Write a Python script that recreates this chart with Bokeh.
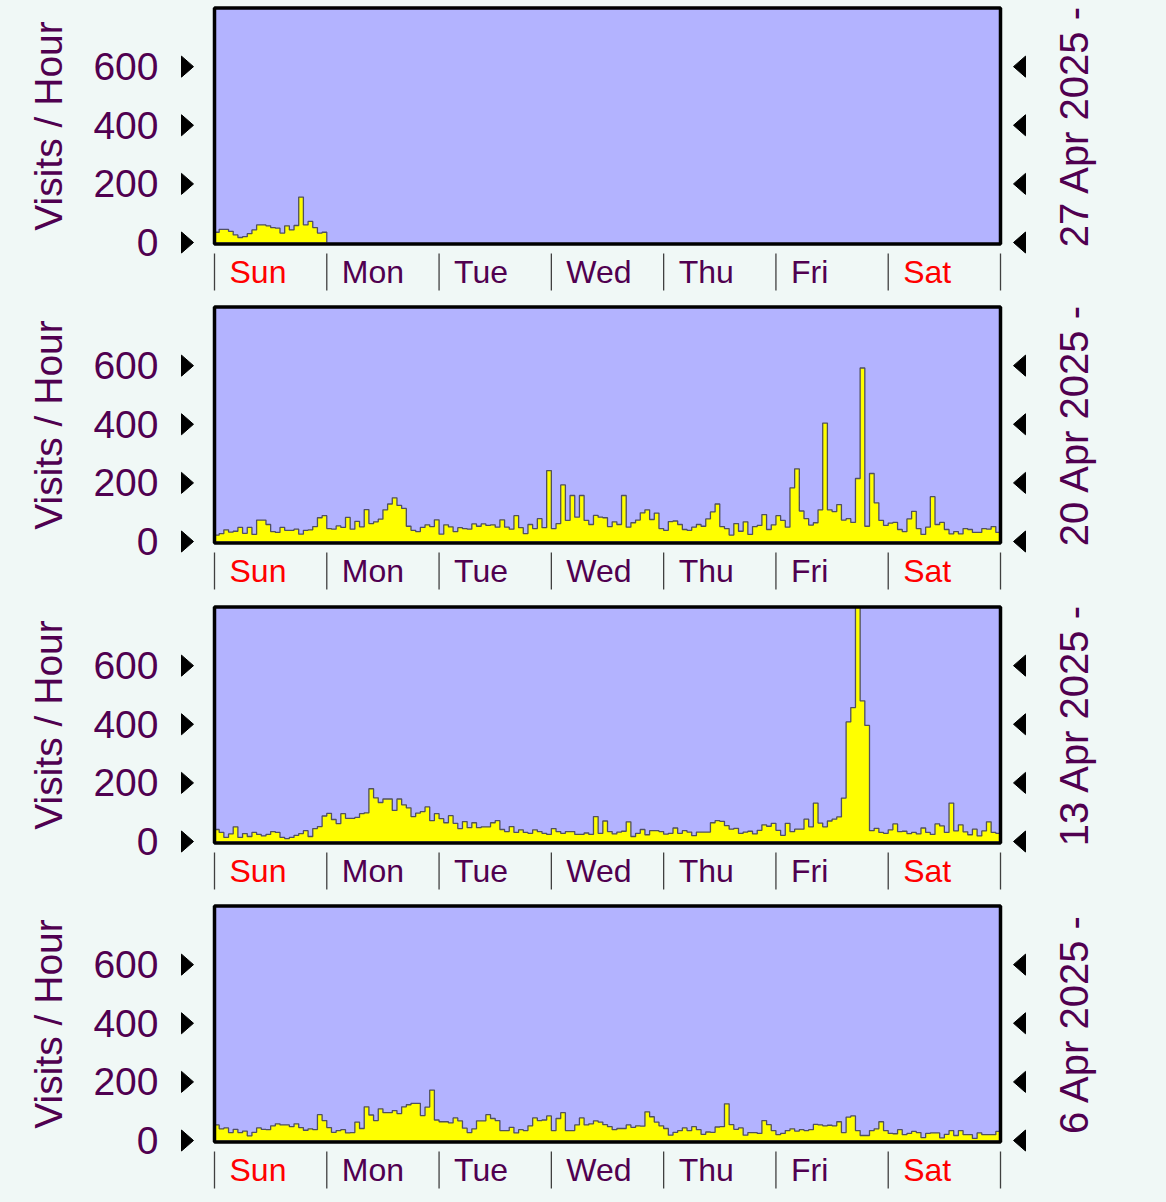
import math
from bokeh.plotting import figure
from bokeh.models import Range1d, FixedTicker
from bokeh.layouts import column, row
from bokeh.core.properties import value
from bokeh.embed import file_html
from bokeh.resources import INLINE

# ---------------- data ----------------
days = ["Sun", "Mon", "Tue", "Wed", "Thu", "Fri", "Sat"]
week_labels = ["27 Apr 2025 -", "20 Apr 2025 -", "13 Apr 2025 -", "6 Apr 2025 -"]
y_ticks = [0, 200, 400, 600]
y_max = 800
y_title = "Visits / Hour"

week_27apr = [35, 45, 45, 38, 26, 17, 20, 30, 43, 60, 60, 57, 51, 49, 32, 57, 43, 58, 155, 60, 72, 51, 32, 35]

week_20apr = [22, 27, 40, 32, 35, 48, 28, 48, 24, 73, 73, 58, 34, 31, 48, 38, 38, 42, 25, 38,
              40, 51, 81, 88, 44, 42, 53, 48, 82, 42, 69, 50, 109, 61, 67, 76, 108, 128, 149, 123,
              113, 52, 38, 34, 48, 57, 51, 74, 25, 57, 50, 34, 47, 44, 42, 60, 52,
              60, 55, 57, 49, 74, 49, 42, 88, 47, 27, 58, 44, 78, 47, 242, 44, 61, 193, 72, 157,
              83, 157, 72, 58, 89, 83, 81, 51, 67, 58, 157, 49, 64, 73, 98, 108, 75, 97, 44, 38,
              68, 70, 58, 41, 38, 49, 58, 52, 77, 101, 128, 51, 44, 22, 61, 35, 67,
              24, 51, 55, 92, 41, 57, 88, 72, 49, 183, 248, 104, 78, 56, 64, 108, 404, 108, 102, 126,
              73, 78, 65, 215, 592, 52, 232, 132, 72, 55, 63, 65, 41, 34, 77, 103, 44, 24, 49, 153,
              58, 65, 41, 26, 34, 26, 44, 41, 31, 31, 44, 42, 51, 31]

week_13apr = [41, 31, 14, 26, 50, 14, 27, 17, 31, 24, 19, 24, 34, 31, 14, 10, 14, 21, 27, 37,
              17, 44, 51, 87, 96, 75, 61, 95, 79, 79, 82, 95, 98, 180, 149, 133, 145, 145, 106, 145,
              125, 115, 85, 97, 102, 118, 71, 95, 78, 64, 88, 62, 44, 68, 47, 64, 47,
              50, 50, 64, 71, 41, 34, 51, 31, 40, 31, 28, 40, 34, 28, 24, 44, 34, 28, 34, 34,
              24, 24, 29, 24, 85, 28, 70, 34, 26, 32, 35, 67, 17, 28, 41, 23, 37, 37, 34, 25,
              28, 46, 28, 37, 32, 20, 32, 32, 32, 64, 71, 69, 54, 42, 45, 28, 32,
              35, 26, 38, 57, 52, 62, 38, 21, 62, 34, 42, 42, 76, 50, 131, 63, 50, 70, 76, 84,
              148, 408, 457, 820, 480, 396, 37, 45, 31, 28, 40, 60, 34, 35, 27, 31, 26, 46, 31, 24,
              60, 53, 31, 131, 36, 57, 33, 23, 42, 19, 36, 67, 31, 28]

week_6apr = [53, 40, 43, 27, 38, 27, 32, 16, 28, 43, 38, 37, 50, 57, 53, 53, 47, 57, 44, 35,
             40, 37, 88, 68, 44, 28, 34, 37, 26, 27, 63, 41, 115, 87, 68, 108, 95, 95, 102, 92,
             115, 122, 127, 127, 85, 114, 172, 70, 64, 64, 60, 77, 67, 42, 27, 40, 67,
             67, 88, 75, 68, 34, 34, 45, 26, 37, 34, 50, 77, 68, 70, 84, 34, 75, 95, 34, 34,
             53, 77, 53, 57, 67, 63, 54, 47, 37, 41, 41, 53, 45, 50, 49, 98, 81, 63, 50, 41,
             18, 28, 34, 43, 34, 47, 37, 21, 29, 28, 46, 47, 125, 54, 38, 43, 18,
             27, 27, 24, 68, 54, 34, 20, 24, 34, 40, 32, 37, 34, 37, 55, 53, 50, 52, 50, 64,
             27, 80, 84, 34, 17, 17, 34, 40, 64, 34, 24, 23, 37, 20, 24, 31, 27, 10, 24, 26,
             26, 9, 21, 34, 17, 34, 20, 20, 7, 26, 20, 20, 20, 31]

weeks = [week_27apr, week_20apr, week_13apr, week_6apr]

# ---------------- style / layout constants ----------------
BG = "#F0F8F6"
LAV = "#B3B3FF"
PURPLE = "#500050"
RED = "#FF0000"
FONT = "Liberation Sans"
HOURS = 168
BOX_X = 214                 # page x of box left edge
BOX_W = 786                 # px, width of lavender box
PX_H = BOX_W / HOURS        # px per hour
PX_V = 0.2931               # px per visit
ZERO_Y = 242                # px from figure top to value 0
FRAME_L = 38                # px of frame left of the box
FRAME_R = 30                # px of frame right of the box
LEFT_W = 90                 # width of the left title strip
FIG_W = 1164
PANEL_H = [299, 300, 299, 302]

day_colors = [RED if d in ("Sun", "Sat") else PURPLE for d in days]


def px_x(px):
    """page-x pixel -> hour coordinate"""
    return (px - BOX_X) / PX_H


def px_y(py):
    """figure-y pixel -> value coordinate"""
    return (ZERO_Y - py) / PX_V


def side_fig(width, height, y_range):
    f = figure(frame_width=width, frame_height=height,
               x_range=Range1d(0, width), y_range=y_range,
               x_axis_location=None, y_axis_location=None,
               toolbar_location=None, output_backend="svg",
               min_border_left=0, min_border_right=0,
               min_border_top=0, min_border_bottom=0)
    f.background_fill_color = BG
    f.border_fill_color = BG
    f.outline_line_color = None
    f.xgrid.visible = False
    f.ygrid.visible = False
    return f


def make_panel(vals, label, height):
    frame_l = BOX_X - FRAME_L
    frame_w = BOX_W + FRAME_L + FRAME_R
    yr = Range1d(px_y(height), px_y(0))
    p = figure(frame_width=frame_w, frame_height=height,
               x_range=Range1d(px_x(frame_l), px_x(frame_l + frame_w)),
               y_range=yr,
               x_axis_location=None, toolbar_location=None, output_backend="svg",
               min_border_left=frame_l - LEFT_W, min_border_right=0,
               min_border_top=0, min_border_bottom=0)
    p.background_fill_color = BG
    p.border_fill_color = BG
    p.outline_line_color = None
    p.xgrid.visible = False
    p.ygrid.visible = False

    box_bottom = px_y(ZERO_Y + 1.5)
    p.quad(left=0, right=HOURS, bottom=box_bottom, top=y_max,
           fill_color=LAV, line_color=None)

    xs = list(range(len(vals))) + [len(vals)]
    ys = [min(v, y_max) for v in vals] + [0]   # bars are clipped at the box top
    p.varea_step(x=xs, y1=[0] * len(xs), y2=ys, step_mode="after",
                 fill_color="#FFFF00")
    p.step(x=xs, y=ys, mode="after", line_color="#505060", line_width=1.3)

    p.quad(left=0, right=HOURS, bottom=box_bottom, top=y_max,
           fill_color=None, line_color="black", line_width=3.5)

    # triangle tick markers
    half = 10.5 / PX_V
    lt, lb = px_x(BOX_X - 21), px_x(BOX_X - 33)
    rt, rb = px_x(BOX_X + BOX_W + 13), px_x(BOX_X + BOX_W + 25)
    p.patches(xs=[[lb, lb, lt] for t in y_ticks],
              ys=[[t + half, t - half, t] for t in y_ticks],
              fill_color="black", line_color="black")
    p.patches(xs=[[rb, rb, rt] for t in y_ticks],
              ys=[[t + half, t - half, t] for t in y_ticks],
              fill_color="black", line_color="black")

    # day separators and labels
    starts = [24 * i for i in range(len(days) + 1)]
    p.segment(x0=starts, y0=[px_y(ZERO_Y + 11)] * len(starts), x1=starts,
              y1=[px_y(ZERO_Y + 48)] * len(starts), line_color="#404040", line_width=1.3)
    p.text(x=starts[:-1], y=[px_y(ZERO_Y + 29.5)] * len(days), text=days,
           text_color=day_colors, text_font=value(FONT), text_font_size="32px",
           text_baseline="middle", text_align="left", x_offset=15)

    ya = p.yaxis[0]
    ya.ticker = FixedTicker(ticks=y_ticks)
    ya.axis_line_color = None
    ya.major_tick_line_color = None
    ya.minor_tick_line_color = None
    ya.major_label_standoff = 12
    ya.major_label_text_font = FONT
    ya.major_label_text_font_size = "39px"
    ya.major_label_text_color = PURPLE

    y_mid = (box_bottom + y_max) / 2

    left = side_fig(LEFT_W, height, yr)
    left.text(x=[47.5], y=[y_mid], text=[y_title], angle=math.pi / 2,
              text_align="center", text_baseline="middle",
              text_font=value(FONT), text_font_size="39px", text_color=PURPLE)

    right_w = FIG_W - frame_l - frame_w
    right = side_fig(right_w, height, yr)
    right.text(x=[1073 - (frame_l + frame_w)], y=[y_mid], text=[label], angle=math.pi / 2,
               text_align="center", text_baseline="middle",
               text_font=value(FONT), text_font_size="40px", text_color=PURPLE)
    return row(left, p, right, spacing=0)


panels = [make_panel(v, l, h) for v, l, h in zip(weeks, week_labels, PANEL_H)]
layout = column(*panels, spacing=0)
html = file_html(layout, INLINE).replace(
    "<head>", "<head><style>html,body{background:%s;}</style>" % BG, 1)
open("out.html", "w").write(html)
